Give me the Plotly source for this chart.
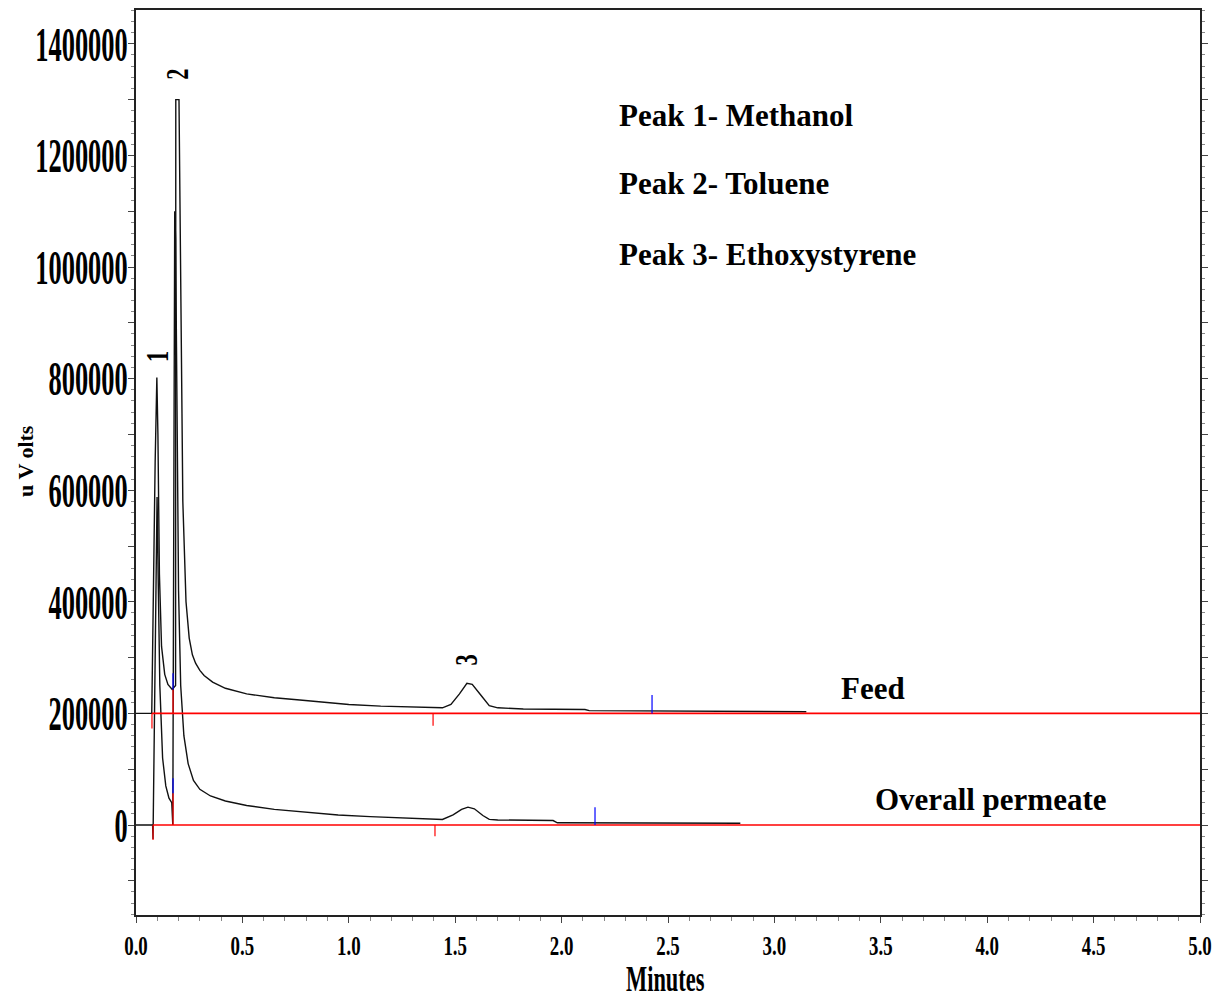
import plotly.graph_objects as go

# ---------------- data ----------------
feed_t = [0.000, 0.074, 0.090, 0.098, 0.103, 0.110, 0.120, 0.135, 0.150, 0.170,
          0.186, 0.187, 0.202, 0.212, 0.220, 0.235, 0.250, 0.265, 0.280, 0.300,
          0.320, 0.360, 0.420, 0.520, 0.650, 0.770, 0.900, 1.000, 1.150, 1.300,
          1.440, 1.480, 1.520, 1.555, 1.580, 1.620, 1.660, 1.700, 1.800, 1.820,
          2.110, 2.130, 3.150]
feed_uv = [200000, 200000, 650000, 802000, 700000, 450000, 320000, 270000, 252000, 243000,
           250000, 1300000, 1300000, 850000, 580000, 400000, 335000, 305000, 290000, 277000,
           268000, 256000, 245000, 235000, 228000, 224000, 219000, 216000, 213000, 211000,
           210000, 216000, 235000, 254000, 252000, 233000, 214000, 210000, 209000, 208000,
           207000, 205000, 203000]

perm_t = [0.000, 0.078, 0.080, 0.092, 0.099, 0.104, 0.112, 0.125, 0.140, 0.155,
          0.168, 0.173, 0.178, 0.182, 0.186, 0.192, 0.200, 0.210, 0.225, 0.245,
          0.270, 0.300, 0.350, 0.420, 0.520, 0.650, 0.800, 0.950, 1.100, 1.250,
          1.400, 1.440, 1.490, 1.530, 1.560, 1.590, 1.630, 1.660, 1.700, 1.960,
          1.980, 2.840]
perm_uv = [0, 0, -25000, 420000, 588000, 450000, 250000, 120000, 70000, 48000,
           40000, 0, 900000, 1100000, 1050000, 700000, 420000, 250000, 160000, 110000,
           80000, 64000, 52000, 43000, 35000, 28000, 23000, 18000, 15000, 12500,
           10000, 10000, 18000, 28000, 32000, 29000, 17000, 10000, 9000, 8000,
           4000, 3000]

# integration baselines
feed_base_t = [0.075, 5.0]
feed_base_uv = [200000, 200000]
perm_base_t = [0.080, 5.0]
perm_base_uv = [0, 0]

# integration event marks: (time, from, to)
red_marks = [(0.075, 200000, 173000), (0.174, 200000, 243000), (1.396, 200000, 178000),
             (0.080, 0, -27000), (0.174, 0, 57000), (1.405, 0, -20000)]
blue_marks = [(0.174, 243000, 272000), (2.425, 200000, 233000),
              (0.174, 57000, 84000), (2.157, 0, 32000)]

peak_labels = ["1", "2", "3"]
peak_label_t = [0.099, 0.193, 1.551]
peak_label_uv = [840000, 1346000, 296000]

legend_lines = ["Peak 1- Methanol", "Peak 2- Toluene", "Peak 3- Ethoxystyrene"]
legend_uv = [1272000, 1149000, 1023000]

x_tickvals = [0.0, 0.5, 1.0, 1.5, 2.0, 2.5, 3.0, 3.5, 4.0, 4.5, 5.0]
x_ticktext = ["0.0", "0.5", "1.0", "1.5", "2.0", "2.5", "3.0", "3.5", "4.0", "4.5", "5.0"]
y_tickvals = [-100000, 0, 100000, 200000, 300000, 400000, 500000, 600000, 700000,
              800000, 900000, 1000000, 1100000, 1200000, 1300000, 1400000]
y_ticktext = ["", "0", "", "200000", "", "400000", "", "600000", "", "800000", "",
              "1000000", "", "1200000", "", "1400000"]

# ---------------- figure ----------------
SERIF = "Liberation Serif, Times New Roman, serif"


def seg(marks):
    xs, ys = [], []
    for t, a, b in marks:
        xs += [t, t, None]
        ys += [a, b, None]
    return xs, ys


fig = go.Figure()
fig.add_trace(go.Scatter(x=feed_t, y=feed_uv, mode="lines",
                         line=dict(color="#111111", width=1.4), hoverinfo="skip"))
fig.add_trace(go.Scatter(x=perm_t, y=perm_uv, mode="lines",
                         line=dict(color="#111111", width=1.4), hoverinfo="skip"))
fig.add_trace(go.Scatter(x=feed_base_t, y=feed_base_uv, mode="lines",
                         line=dict(color="#ff0000", width=1.6), hoverinfo="skip"))
fig.add_trace(go.Scatter(x=perm_base_t, y=perm_base_uv, mode="lines",
                         line=dict(color="#ff0000", width=1.6), hoverinfo="skip"))
rx, ry = seg(red_marks)
fig.add_trace(go.Scatter(x=rx, y=ry, mode="lines",
                         line=dict(color="#ff0000", width=1.2), hoverinfo="skip"))
bx, by = seg(blue_marks)
fig.add_trace(go.Scatter(x=bx, y=by, mode="lines",
                         line=dict(color="#0000ff", width=1.2), hoverinfo="skip"))

annotations = []
for lab, t, v in zip(peak_labels, peak_label_t, peak_label_uv):
    annotations.append(dict(x=t, y=v, xref="x", yref="y", text=lab, showarrow=False,
                            textangle=-90, xanchor="center", yanchor="middle",
                            font=dict(family=SERIF, size=32, color="black", weight="bold")))
for txt, v in zip(legend_lines, legend_uv):
    annotations.append(dict(x=2.258, y=v, xref="x", yref="y", text=txt, showarrow=False,
                            xanchor="left", yanchor="middle",
                            font=dict(family=SERIF, size=31, color="black", weight="bold")))
annotations.append(dict(x=3.463, y=245000, xref="x", yref="y", text="Feed", showarrow=False,
                        xanchor="center", yanchor="middle",
                        font=dict(family=SERIF, size=31, color="black", weight="bold")))
annotations.append(dict(x=4.018, y=45000, xref="x", yref="y", text="Overall permeate",
                        showarrow=False, xanchor="center", yanchor="middle",
                        font=dict(family=SERIF, size=31, color="black", weight="bold")))
# axis titles
annotations.append(dict(x=-0.1034, y=0.5017, xref="paper", yref="paper", text="u V olts",
                        showarrow=False, textangle=-90, xanchor="center", yanchor="middle",
                        font=dict(family=SERIF, size=22, color="black", weight="bold")))
annotations.append(dict(x=0.498, y=-0.0715, xref="paper", yref="paper", text="Minutes",
                        showarrow=False, xanchor="center", yanchor="middle",
                        font=dict(family=SERIF, size=35, color="black", weight="bold")))

fig.update_layout(
    width=1219, height=1003,
    margin=dict(l=136, r=19, t=10, b=88, autoexpand=False),
    paper_bgcolor="white", plot_bgcolor="white",
    showlegend=False,
    annotations=annotations,
    xaxis=dict(range=[0, 5.0], tickmode="array", tickvals=x_tickvals, ticktext=x_ticktext,
               ticks="outside", ticklen=6, tickwidth=1, tickcolor="#444",
               minor=dict(tickmode="linear", tick0=0, dtick=0.1, ticks="outside",
                          ticklen=4, tickcolor="#888", tickwidth=1),
               showline=True, linecolor="#222", linewidth=1.5, mirror=True,
               showgrid=False, zeroline=False, automargin=False,
               ticklabelstandoff=0,
               tickfont=dict(family=SERIF, size=27, color="black", weight="bold")),
    yaxis=dict(range=[-161300, 1460600], tickmode="array", tickvals=y_tickvals,
               ticktext=y_ticktext,
               ticks="outside", ticklen=6, tickwidth=1, tickcolor="#444",
               minor=dict(tickmode="linear", tick0=0, dtick=20000, ticks="outside",
                          ticklen=3, tickcolor="#888", tickwidth=1),
               showline=True, linecolor="#222", linewidth=1.5, mirror="ticks",
               showgrid=False, zeroline=False, automargin=False,
               tickfont=dict(family=SERIF, size=48, color="black", weight="bold")),
)

post = """
var gd = document.getElementById('{plot_id}');
function condense(el, s, mode, dx, dy){
  try {
    var bb = el.getBBox();
    if (!bb || bb.width === 0) return;
    var ax = (mode === 'end') ? (bb.x + bb.width) : (bb.x + bb.width / 2);
    var t = el.getAttribute('transform') || '';
    el.setAttribute('transform', t + ' translate(' + (dx||0) + ',' + (dy||0) + ') translate(' + ax + ',0) scale(' + s + ',1) translate(' + (-ax) + ',0)');
  } catch (e) {}
}
gd.querySelectorAll('.ytick text').forEach(function(e){ condense(e, 0.55, 'end', 9, 0); });
gd.querySelectorAll('.xtick text').forEach(function(e){ condense(e, 0.70, 'mid', 0, 0); });
gd.querySelectorAll('.annotation-text').forEach(function(e){
  if (e.textContent === 'Minutes') condense(e, 0.64, 'mid', 0, 0);
  if (['1','2','3'].indexOf(e.textContent) >= 0) condense(e, 0.7, 'mid', 0, 0);
});
"""

fig.write_html("out.html", post_script=post)
